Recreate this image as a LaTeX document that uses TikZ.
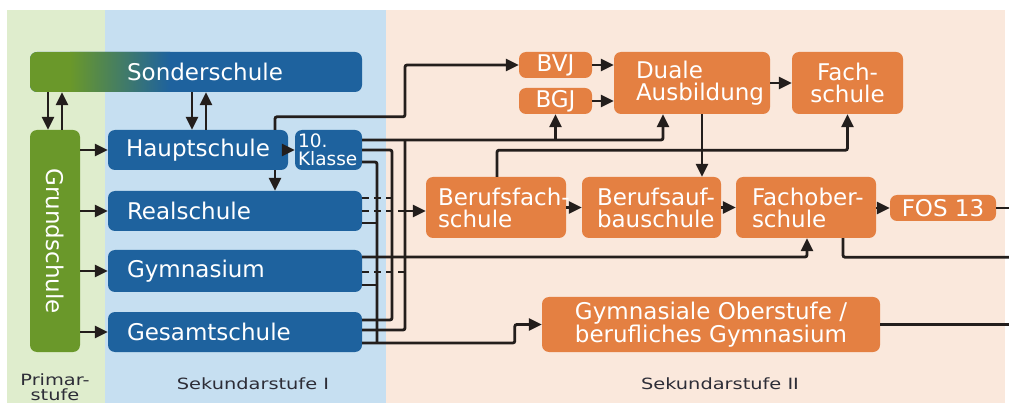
\documentclass[tikz,border=0pt]{standalone}
\usepackage{fontspec}
\usepackage{graphicx}
\setmainfont{DejaVu Sans}
\usetikzlibrary{arrows.meta}
\definecolor{sblue}{RGB}{30,98,158}
\definecolor{sgreen}{RGB}{106,152,42}
\definecolor{sorange}{RGB}{228,128,66}
\definecolor{bggreen}{RGB}{223,237,205}
\definecolor{bgblue}{RGB}{198,223,241}
\definecolor{bgpeach}{RGB}{250,232,220}
\definecolor{lcol}{RGB}{35,30,28}
\definecolor{labcol}{RGB}{45,45,55}
\begin{document}
\begin{tikzpicture}[x=1pt,y=-1pt,
  box/.style={rounded corners=7pt, text=white, font=\fontsize{23}{22}\selectfont, inner sep=0pt},
  bluebox/.style={box, fill=sblue},
  orbox/.style={box, fill=sorange},
  leftbox/.style 2 args={align=left, inner xsep=#1, text width=#2},
  conn/.style={draw=lcol, line width=2.8pt, rounded corners=2pt},
  arr/.style={conn, -{Triangle[length=13pt,width=12pt]}},
  dconn/.style={conn, dash pattern=on 7pt off 5pt},
  lab/.style={text=labcol, font=\fontsize{15.5}{15}\selectfont, align=center}]

\useasboundingbox (0,0) rectangle (1009,403);
\fill[white] (0,0) rectangle (1009,403);
\fill[bggreen] (7,10) rectangle (105,403);
\fill[bgblue] (105,10) rectangle (386,403);
\fill[bgpeach] (386,10) rectangle (1005,403);

% Sekundarstufe I / Primarstufe nodes
\node[bluebox, minimum width=332pt, minimum height=40pt,
  path picture={
    \fill[sgreen, sharp corners] (path picture bounding box.south west) rectangle ([xshift=40pt]path picture bounding box.north west);
    \shade[left color=sgreen, right color=sblue, sharp corners] ([xshift=40pt]path picture bounding box.south west) rectangle ([xshift=140pt]path picture bounding box.north west);
  }] (sonder) at (196,72) {\hspace*{18pt}Sonderschule};
\node[box, fill=sgreen, minimum width=50pt, minimum height=222pt] (grund) at (55,241) {};
\node[text=white, font=\fontsize{23}{22}\selectfont, rotate=-90] (grundtxt) at (grund.center) {Grundschule};
\node[bluebox, minimum width=180pt, minimum height=40pt] (haupt) at (198,150) {Hauptschule};
\node[bluebox, minimum height=40pt, leftbox={3pt}{61pt}, font=\fontsize{18.5}{18}\selectfont] (klasse) at (328.5,150) {\mbox{10.}\\\mbox{Klasse}};
\node[bluebox, minimum height=40pt, leftbox={19pt}{216pt}] (real) at (235,211) {Realschule};
\node[bluebox, minimum height=42pt, leftbox={19pt}{216pt}] (gym) at (235,271) {Gymnasium};
\node[bluebox, minimum height=40pt, leftbox={19pt}{216pt}] (gesamt) at (235,332) {Gesamtschule};

% Sekundarstufe II nodes
\node[orbox, minimum width=73pt, minimum height=26pt] (bvj) at (555.5,65) {BVJ};
\node[orbox, minimum width=73pt, minimum height=26pt] (bgj) at (555.5,101) {BGJ};
\node[orbox, minimum height=62pt, leftbox={22pt}{112pt}] (duale) at (692,83) {\mbox{Duale}\\\mbox{Ausbildung}};
\node[orbox, minimum width=111pt, minimum height=62pt, align=center] (fach) at (847.5,83) {Fach-\\schule};
\node[orbox, minimum height=61pt, leftbox={12pt}{116pt}] (bfs) at (496,207.5) {\mbox{Berufsfach-}\\\mbox{schule}};
\node[orbox, minimum height=61pt, leftbox={15pt}{109pt}] (bas) at (651.5,207.5) {\mbox{Berufsauf-}\\\mbox{bauschule}};
\node[orbox, minimum height=61pt, leftbox={16pt}{108pt}] (fos) at (806,207.5) {\mbox{Fachober-}\\\mbox{schule}};
\node[orbox, minimum width=106pt, minimum height=26pt] (fos13) at (943,208) {FOS 13};
\node[orbox, minimum width=338pt, minimum height=55pt, align=center] (gos) at (711,324.5) {Gymnasiale Oberstufe /\\berufliches Gymnasium};

% stage labels
\node[lab] (primar) at (55,387) {\scalebox{1.25}[1]{Primar-}\\\scalebox{1.25}[1]{stufe}};
\node[lab] (sek1) at (253,384) {\scalebox{1.25}[1]{Sekundarstufe I}};
\node[lab] (sek2) at (720,384) {\scalebox{1.25}[1]{Sekundarstufe II}};

% helper coordinates
\coordinate (xb1) at (377,0);
\coordinate (xb2) at (392,0);
\coordinate (xb3) at (405,0);
\coordinate (edge) at (1009,0);
\coordinate (k1) at ([yshift=10pt]klasse.east);
\coordinate (k3) at ([yshift=-12pt]klasse.east);
\coordinate (r1) at ([yshift=13pt]real.east);
\coordinate (r3) at ([yshift=-12pt]real.east);
\coordinate (m1) at ([yshift=14pt]gym.east);
\coordinate (m2) at ([yshift=-1pt]gym.east);
\coordinate (m3) at ([yshift=-14pt]gym.east);
\coordinate (g1) at ([yshift=12pt]gesamt.east);
\coordinate (g2) at ([yshift=2pt]gesamt.east);
\coordinate (g3) at ([yshift=-11pt]gesamt.east);
\coordinate (hup) at ([xshift=77pt]haupt.north);
\coordinate (j1) at ([yshift=13pt]hup -| xb3);

% Sonderschule <-> Grundschule / Hauptschule
\draw[arr] ([xshift=-7pt]grund.north |- sonder.south) -- ([xshift=-7pt]grund.north);
\draw[arr] ([xshift=7pt]grund.north) -- ([xshift=7pt]grund.north |- sonder.south);
\draw[arr] ([xshift=-6pt]haupt.north |- sonder.south) -- ([xshift=-6pt]haupt.north);
\draw[arr] ([xshift=8pt]haupt.north) -- ([xshift=8pt]haupt.north |- sonder.south);

% Grundschule -> Sekundarstufe I
\draw[arr] (grund.east |- haupt.west) -- (haupt.west);
\draw[arr] (grund.east |- real.west) -- (real.west);
\draw[arr] (grund.east |- gym.west) -- (gym.west);
\draw[arr] (grund.east |- gesamt.west) -- (gesamt.west);

% Hauptschule
\draw[arr] (haupt.east) -- (klasse.west);
\draw[arr] ([xshift=77pt]haupt.south) -- ([xshift=77pt]haupt.south |- real.north);
\draw[arr] (hup) |- (j1) |- (bvj.west);

% buses from 10. Klasse
\draw[arr] (k1) -| ([xshift=-29pt]duale.south);
\draw[arr] (bgj.south |- k1) -- (bgj.south);
\draw[conn] (xb3 |- k1) -- (xb3 |- g2) -- (g2);
\draw[conn] (klasse.east) -| (xb2 |- g1) -- (g1);
\draw[conn] (k3) -| (xb1 |- g3);
\draw[arr] (g3) -| ([xshift=-27pt]gos.west) -- (gos.west);

% Realschule
\draw[dconn] (r1) -- (xb2 |- r1);
\draw[dconn] (real.east) -- (xb3 |- real.east);
\draw[arr] (xb3 |- real.east) -- (bfs.west |- real.east);
\draw[conn] (r3) -- (xb1 |- r3);

% Gymnasium
\draw[arr] (m1) -| ([xshift=1pt]fos.south);
\draw[dconn] (m2) -- (xb3 |- m2);
\draw[conn] (m3) -- (xb1 |- m3);

% Sekundarstufe II
\draw[arr] (bvj.east) -- (duale.west |- bvj.east);
\draw[arr] (bgj.east) -- (duale.west |- bgj.east);
\draw[arr] (duale.east) -- (fach.west);
\draw[arr] ([xshift=10pt]duale.south) -- ([xshift=10pt]duale.south |- bas.north);
\draw[arr] ([xshift=1pt]bfs.north) |- ([yshift=-36pt]fach.south) -- (fach.south);
\draw[arr] (bfs.east) -- (bas.west);
\draw[arr] (bas.east) -- (fos.west);
\draw[arr] (fos.east |- fos13.west) -- (fos13.west);
\draw[conn] (fos13.east) -- (edge |- fos13.east);
\draw[conn] ([xshift=37pt]fos.south) |- ([yshift=-19pt]fos.south -| edge);
\draw[conn] (gos.east) -- (edge |- gos.east);
\end{tikzpicture}
\end{document}
